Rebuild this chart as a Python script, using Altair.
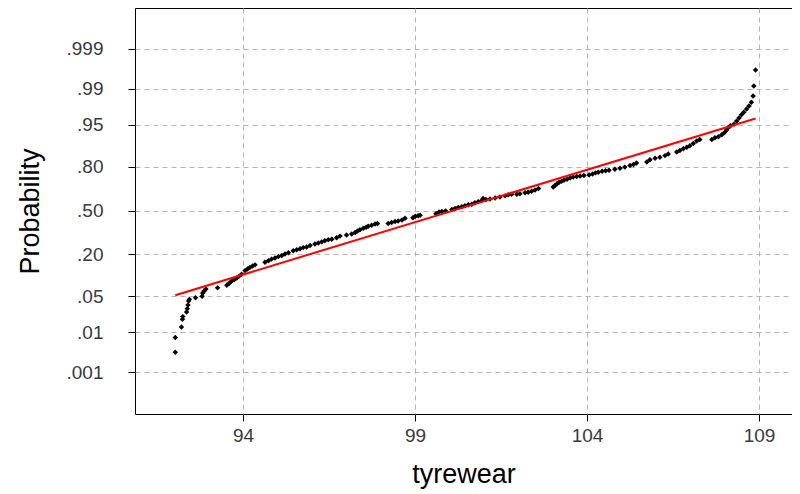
import altair as alt
import pandas as pd
from statistics import NormalDist

# Observed tyrewear values (x) and their normal scores on the probability axis (z)
tyrewear = [
    92.03, 92.03, 92.21, 92.24, 92.25, 92.36, 92.38, 92.40, 92.42, 92.44,
    92.62, 92.81, 92.83, 92.87, 92.92, 93.26, 93.53, 93.60, 93.67, 93.75,
    93.82, 93.88, 93.96, 94.06, 94.13, 94.20, 94.28, 94.35, 94.64, 94.74,
    94.83, 94.93, 95.03, 95.13, 95.22, 95.32, 95.46, 95.56, 95.66, 95.75,
    95.85, 95.95, 96.09, 96.19, 96.29, 96.38, 96.48, 96.58, 96.72, 96.82,
    97.01, 97.16, 97.26, 97.33, 97.40, 97.50, 97.58, 97.64, 97.74, 97.84,
    97.91, 98.22, 98.32, 98.42, 98.51, 98.62, 98.71, 98.94, 99.01, 99.09,
    99.15, 99.61, 99.70, 99.78, 99.89, 100.07, 100.16, 100.26, 100.36, 100.45,
    100.55, 100.65, 100.74, 100.84, 100.94, 100.98, 101.06, 101.18, 101.33, 101.47,
    101.62, 101.71, 101.81, 101.96, 102.05, 102.20, 102.29, 102.39, 102.49, 102.59,
    103.02, 103.07, 103.13, 103.19, 103.26, 103.33, 103.42, 103.51, 103.60, 103.70,
    103.80, 103.91, 104.06, 104.16, 104.25, 104.33, 104.44, 104.54, 104.64, 104.81,
    104.96, 105.10, 105.25, 105.35, 105.44, 105.74, 105.83, 105.98, 106.12, 106.27,
    106.36, 106.61, 106.70, 106.80, 106.90, 106.99, 107.09, 107.19, 107.28, 107.63,
    107.72, 107.82, 107.92, 108.00, 108.06, 108.11, 108.17, 108.27, 108.35, 108.42,
    108.49, 108.56, 108.64, 108.71, 108.78, 108.83, 108.85, 108.90,
]
zscore = [
    -2.71, -2.43, -2.23, -2.08, -2.03, -1.94, -1.88, -1.81, -1.73, -1.70,
    -1.67, -1.64, -1.58, -1.54, -1.50, -1.48, -1.43, -1.39, -1.35, -1.32,
    -1.29, -1.26, -1.22, -1.15, -1.12, -1.09, -1.06, -1.04, -0.99, -0.96,
    -0.93, -0.91, -0.88, -0.86, -0.83, -0.81, -0.77, -0.75, -0.73, -0.71,
    -0.70, -0.67, -0.64, -0.62, -0.60, -0.58, -0.56, -0.55, -0.52, -0.49,
    -0.47, -0.45, -0.42, -0.39, -0.37, -0.34, -0.32, -0.30, -0.28, -0.26,
    -0.25, -0.25, -0.23, -0.21, -0.20, -0.18, -0.15, -0.14, -0.11, -0.10,
    -0.09, -0.06, -0.03, -0.02, -0.01, 0.02, 0.04, 0.06, 0.07, 0.09,
    0.11, 0.12, 0.15, 0.17, 0.19, 0.23, 0.21, 0.22, 0.24, 0.26,
    0.28, 0.30, 0.31, 0.31, 0.32, 0.34, 0.35, 0.37, 0.39, 0.42,
    0.45, 0.48, 0.51, 0.54, 0.56, 0.58, 0.60, 0.62, 0.64, 0.65,
    0.66, 0.67, 0.68, 0.70, 0.72, 0.73, 0.75, 0.76, 0.77, 0.79,
    0.81, 0.83, 0.86, 0.88, 0.91, 0.93, 0.97, 1.00, 1.02, 1.05,
    1.08, 1.12, 1.15, 1.18, 1.21, 1.24, 1.28, 1.33, 1.36, 1.36,
    1.39, 1.41, 1.45, 1.49, 1.54, 1.59, 1.62, 1.65, 1.71, 1.77,
    1.83, 1.88, 1.94, 2.00, 2.07, 2.19, 2.38, 2.69,
]

# Fitted normal reference line (end points)
fit_x = [92.03, 108.90]
fit_z = [-1.62, 1.76]

# Axis ticks
x_ticks = [94, 99, 104, 109]
prob_ticks = [0.001, 0.01, 0.05, 0.20, 0.50, 0.80, 0.95, 0.99, 0.999]
prob_labels = [".001", ".01", ".05", ".20", ".50", ".80", ".95", ".99", ".999"]

nd = NormalDist()
tick_z = [nd.inv_cdf(p) for p in prob_ticks]
label_expr = ""
for z, lab in zip(tick_z, prob_labels):
    label_expr += f"abs(datum.value - ({z:.5f})) < 0.01 ? '{lab}' : "
label_expr += "''"

pts = pd.DataFrame({"tyrewear": tyrewear, "z": zscore})
fit = pd.DataFrame({"tyrewear": fit_x, "z": fit_z})

FONT = "Liberation Sans"
xscale = alt.Scale(domain=[90.86, 109.96], nice=False, zero=False)
yscale = alt.Scale(domain=[-3.893, 3.874], nice=False, zero=False)

xaxis = alt.Axis(
    values=x_ticks, title="tyrewear", grid=True, gridDash=[5, 4], gridColor="#b4b4b4",
    domain=False, ticks=True, tickSize=7, tickColor="#000000",
    labelFont=FONT, labelFontSize=19, labelColor="#3a3a3a", labelPadding=5,
    titleFont=FONT, titleFontSize=27, titleFontWeight="normal", titleColor="#000000",
    titlePadding=16,
)
yaxis = alt.Axis(
    values=tick_z, labelExpr=label_expr, title="Probability", grid=True,
    gridDash=[5, 4], gridColor="#b4b4b4",
    domain=False, ticks=True, tickSize=7, tickColor="#000000",
    labelFont=FONT, labelFontSize=19, labelColor="#3a3a3a", labelPadding=25,
    titleFont=FONT, titleFontSize=27, titleFontWeight="normal", titleColor="#000000",
    titlePadding=22,
)

points = alt.Chart(pts).mark_point(
    shape="diamond", filled=True, size=30, color="#000000", opacity=1
).encode(
    x=alt.X("tyrewear:Q", scale=xscale, axis=xaxis),
    y=alt.Y("z:Q", scale=yscale, axis=yaxis),
)

line = alt.Chart(fit).mark_line(color="#ff0000", strokeWidth=2).encode(
    x=alt.X("tyrewear:Q", scale=xscale),
    y=alt.Y("z:Q", scale=yscale),
)

chart = alt.layer(points, line).properties(
    width=657,
    height=406,
    padding={"left": 127, "top": 0, "right": 0, "bottom": 78},
    autosize=alt.AutoSizeParams(type="none"),
    background="#ffffff",
).configure_view(stroke="#000000", strokeWidth=1)

chart.save("out.html", embed_options={"renderer": "svg", "actions": False})
